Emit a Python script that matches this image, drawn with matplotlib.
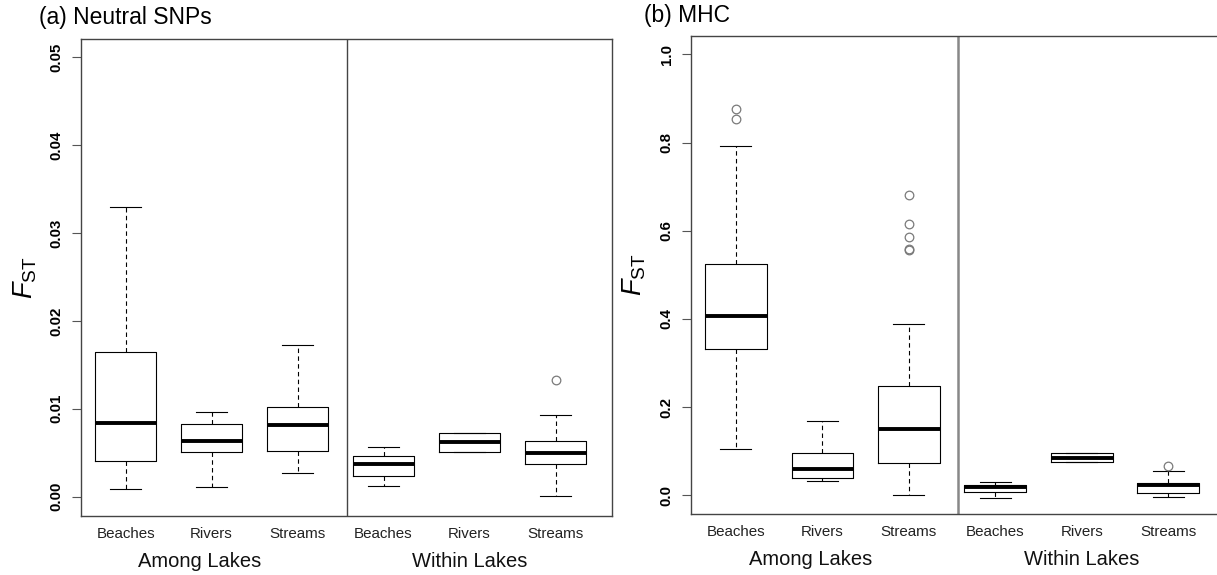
import matplotlib
matplotlib.use('Agg')
import matplotlib.pyplot as plt
import matplotlib.transforms as mtransforms

plt.rcParams['font.family'] = ['Liberation Sans', 'DejaVu Sans']
plt.rcParams['mathtext.fontset'] = 'custom'
plt.rcParams['mathtext.rm'] = 'Liberation Sans'
plt.rcParams['mathtext.it'] = 'Liberation Sans:italic'

# Categories and groups
categories = ['Beaches', 'Rivers', 'Streams', 'Beaches', 'Rivers', 'Streams']
groups = ['Among Lakes', 'Within Lakes']
group_pos = [1.86, 5.0]
positions = [1, 2, 3, 4, 5, 6]

# (a) Neutral SNPs box statistics
snp_whislo = [0.00083, 0.00108, 0.0027, 0.00117, 0.0051, 0.0001]
snp_q1 = [0.0041, 0.0051, 0.0052, 0.00238, 0.0051, 0.00367]
snp_med = [0.00833, 0.00638, 0.0082, 0.00367, 0.00617, 0.00492]
snp_q3 = [0.01646, 0.00825, 0.01017, 0.00467, 0.00725, 0.00638]
snp_whishi = [0.033, 0.0096, 0.01725, 0.00567, 0.00725, 0.00929]
snp_fliers = [[], [], [], [], [], [0.01333]]
snp_ticks = [0.00, 0.01, 0.02, 0.03, 0.04, 0.05]
snp_ticklabels = ['0.00', '0.01', '0.02', '0.03', '0.04', '0.05']

# (b) MHC box statistics
mhc_whislo = [0.105, 0.0324, 0.0, -0.0058, 0.0756, -0.004]
mhc_q1 = [0.332, 0.0399, 0.0723, 0.0066, 0.0756, 0.0058]
mhc_med = [0.407, 0.0598, 0.1495, 0.018, 0.0855, 0.023]
mhc_q3 = [0.524, 0.0955, 0.2475, 0.023, 0.0955, 0.0274]
mhc_whishi = [0.793, 0.168, 0.3895, 0.030, 0.0955, 0.054]
mhc_fliers = [[0.876, 0.853], [], [0.680, 0.615, 0.586, 0.557, 0.559], [], [], [0.067]]
mhc_ticks = [0.0, 0.2, 0.4, 0.6, 0.8, 1.0]
mhc_ticklabels = ['0.0', '0.2', '0.4', '0.6', '0.8', '1.0']


def make_stats(whislo, q1, med, q3, whishi, fliers):
    stats = []
    for i in range(len(med)):
        stats.append({'whislo': whislo[i], 'q1': q1[i], 'med': med[i],
                      'q3': q3[i], 'whishi': whishi[i], 'fliers': fliers[i]})
    return stats


def draw_panel(ax, stats, ylim, ticks, ticklabels, divider_color, divider_lw):
    ax.bxp(stats, positions=positions, widths=0.712, capwidths=0.36,
           showfliers=True,
           boxprops=dict(color='black', linewidth=0.8),
           whiskerprops=dict(color='black', linewidth=0.8, linestyle=(0, (4, 3))),
           capprops=dict(color='black', linewidth=0.8),
           medianprops=dict(color='black', linewidth=2.8, solid_capstyle='butt'),
           flierprops=dict(marker='o', markerfacecolor='none', markeredgecolor='#7a7a7a',
                           markersize=6.2, markeredgewidth=0.9, linestyle='none'))
    ax.set_xlim(0.481, 6.657)
    ax.set_ylim(*ylim)
    ax.axvline(3.569, color=divider_color, linewidth=divider_lw)
    ax.set_xticks(positions)
    ax.set_xticklabels(categories, fontsize=10.9, color='#222222')
    ax.tick_params(axis='x', length=0, pad=8)
    ax.set_yticks(ticks)
    ax.set_yticklabels(ticklabels, rotation=90, va='center', fontsize=10.8,
                       fontweight='bold')
    ax.tick_params(axis='y', length=6.5, width=0.8, color='#555555', pad=6)
    for s in ax.spines.values():
        s.set_color('#444444')
        s.set_linewidth(1.0)
    trans = mtransforms.blended_transform_factory(ax.transData, ax.transAxes)
    for g, p in zip(groups, group_pos):
        ax.text(p, -0.095, g, transform=trans, ha='center', va='center',
                fontsize=14.5, color='#111111')


fig = plt.figure(figsize=(12.17, 5.75), dpi=100)
W, H = 1217, 575

ax_a = fig.add_axes([81 / W, (H - 516) / H, 531 / W, 477 / H])
draw_panel(ax_a, make_stats(snp_whislo, snp_q1, snp_med, snp_q3, snp_whishi, snp_fliers),
           (-0.0022, 0.05208), snp_ticks, snp_ticklabels, '#444444', 1.0)

ax_b = fig.add_axes([691 / W, (H - 513.7) / H, 534 / W, 477.7 / H])
draw_panel(ax_b, make_stats(mhc_whislo, mhc_q1, mhc_med, mhc_q3, mhc_whishi, mhc_fliers),
           (-0.0417, 1.0415), mhc_ticks, mhc_ticklabels, '#888888', 1.8)

# Panel titles and y labels
fig.text(38.7 / W, 1 - 17.6 / H, '(a) Neutral SNPs', fontsize=16.5, va='center', ha='left')
fig.text(644 / W, 1 - 15.5 / H, '(b) MHC', fontsize=16.5, va='center', ha='left')
fig.text(25 / W, 1 - 278 / H, r'$\mathit{F}_{\mathrm{ST}}$', fontsize=19.5, rotation=90,
         va='center', ha='center')
fig.text(634 / W, 1 - 275 / H, r'$\mathit{F}_{\mathrm{ST}}$', fontsize=19.5, rotation=90,
         va='center', ha='center')

fig.savefig('out.png', dpi=100)
